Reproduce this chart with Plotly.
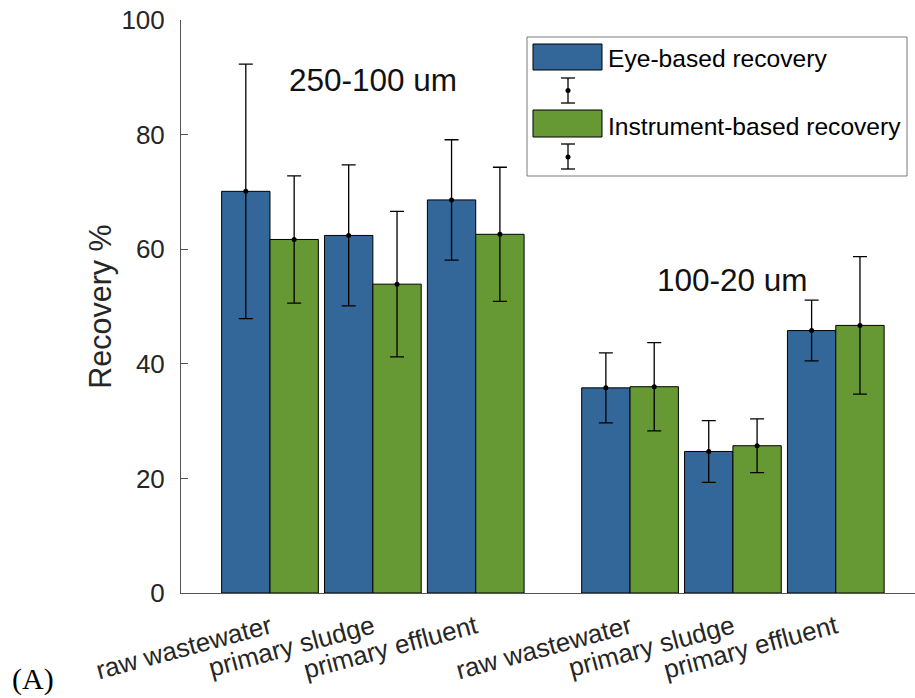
import plotly.graph_objects as go

# Recovery data: two size fractions, three sample types each
categories = ["raw wastewater", "primary sludge", "primary effluent",
              "raw wastewater", "primary sludge", "primary effluent"]
positions = [1, 2, 3, 4.5, 5.5, 6.5]
eye_mean = [70.1, 62.4, 68.6, 35.8, 24.7, 45.8]
eye_err = [22.2, 12.3, 10.5, 6.1, 5.4, 5.3]
inst_mean = [61.7, 53.9, 62.6, 36.0, 25.7, 46.7]
inst_err = [11.1, 12.7, 11.7, 7.7, 4.7, 12.0]
y_ticks = [0, 20, 40, 60, 80, 100]
series_names = ["Eye-based recovery", "Instrument-based recovery"]
fraction_labels = ["250-100 um", "100-20 um"]

BLUE = "rgb(51,102,153)"
GREEN = "rgb(102,153,51)"
FONT = "Liberation Sans, Arial, sans-serif"
BAR_W = 0.47

# plot-area geometry in pixels (used for the hand-drawn legend box)
L, R, T, B = 181, 915, 20, 593
W, H = 915, 698


def px_x(p):
    return (p - L) / (R - L)


def px_y(p):
    return (B - p) / (B - T)


fig = go.Figure()

for means, errs, color, shift in [(eye_mean, eye_err, BLUE, -BAR_W / 2),
                                  (inst_mean, inst_err, GREEN, BAR_W / 2)]:
    xs = [p + shift for p in positions]
    fig.add_trace(go.Bar(
        x=xs, y=means, width=BAR_W,
        marker=dict(color=color, line=dict(color="black", width=1)),
        showlegend=False, hoverinfo="skip",
    ))
    fig.add_trace(go.Scatter(
        x=xs, y=means, mode="markers",
        marker=dict(color="black", size=5),
        error_y=dict(type="data", array=errs, visible=True,
                     color="black", thickness=1.3, width=7),
        showlegend=False, hoverinfo="skip",
    ))

# size-fraction captions
fig.add_annotation(x=2, y=89.5, text=fraction_labels[0], showarrow=False,
                   font=dict(family=FONT, size=31.5, color="#111"))
fig.add_annotation(x=5.5, y=54.6, text=fraction_labels[1], showarrow=False,
                   font=dict(family=FONT, size=31.5, color="#111"))

# panel tag
fig.add_annotation(xref="paper", yref="paper", x=px_x(10), y=px_y(679),
                   xanchor="left", yanchor="middle", text="(A)", showarrow=False,
                   font=dict(family="Liberation Serif, Times New Roman, serif",
                             size=30, color="black"))

# legend: box, patches, error-bar glyphs, labels
shapes = [
    dict(type="rect", xref="paper", yref="paper",
         x0=px_x(527), x1=px_x(907), y0=px_y(176), y1=px_y(37),
         line=dict(color="#7a7a7a", width=1), fillcolor="white", layer="above"),
    dict(type="rect", xref="paper", yref="paper",
         x0=px_x(533), x1=px_x(602), y0=px_y(70), y1=px_y(44),
         line=dict(color="black", width=1), fillcolor=BLUE, layer="above"),
    dict(type="rect", xref="paper", yref="paper",
         x0=px_x(533), x1=px_x(602), y0=px_y(137), y1=px_y(110),
         line=dict(color="black", width=1), fillcolor=GREEN, layer="above"),
]
for top, mid, bot in [(78, 90.5, 103), (144, 157, 169)]:
    cx = 568
    shapes += [
        dict(type="line", xref="paper", yref="paper", x0=px_x(cx), x1=px_x(cx),
             y0=px_y(top), y1=px_y(bot), line=dict(color="black", width=1.3), layer="above"),
        dict(type="line", xref="paper", yref="paper", x0=px_x(cx - 7), x1=px_x(cx + 7),
             y0=px_y(top), y1=px_y(top), line=dict(color="black", width=1.3), layer="above"),
        dict(type="line", xref="paper", yref="paper", x0=px_x(cx - 7), x1=px_x(cx + 7),
             y0=px_y(bot), y1=px_y(bot), line=dict(color="black", width=1.3), layer="above"),
        dict(type="circle", xref="paper", yref="paper", x0=px_x(cx - 2.5), x1=px_x(cx + 2.5),
             y0=px_y(mid + 2.5), y1=px_y(mid - 2.5), line=dict(color="black", width=0),
             fillcolor="black", layer="above"),
    ]
for name, ypix in zip(series_names, [58, 126]):
    fig.add_annotation(xref="paper", yref="paper", x=px_x(606), y=px_y(ypix),
                       xanchor="left", yanchor="middle", text=name, showarrow=False,
                       font=dict(family=FONT, size=24.6, color="black"))

fig.update_layout(
    width=W, height=H,
    margin=dict(l=L, r=W - R, t=T, b=H - B, autoexpand=False),
    paper_bgcolor="white", plot_bgcolor="white",
    barmode="overlay",
    shapes=shapes,
    font=dict(family=FONT, color="#262626"),
    xaxis=dict(
        range=[0.135, 7.27], tickmode="array", tickvals=positions, ticktext=categories,
        tickangle=-15, tickfont=dict(family=FONT, size=26, color="#262626"),
        showline=True, linecolor="#555", linewidth=1, ticks="",
        showgrid=False, zeroline=False, automargin=False, ticklabelstandoff=8,
    ),
    yaxis=dict(
        range=[0, 100], tickmode="array", tickvals=y_ticks,
        tickfont=dict(family=FONT, size=26, color="#262626"),
        showline=True, linecolor="#555", linewidth=1,
        ticks="inside", ticklen=7, tickcolor="#555",
        showgrid=False, zeroline=False, automargin=False, ticklabelstandoff=10,
        title=dict(text="Recovery %", font=dict(family=FONT, size=30.5, color="#262626"),
                   standoff=0),
    ),
)

fig.write_html("out.html")
